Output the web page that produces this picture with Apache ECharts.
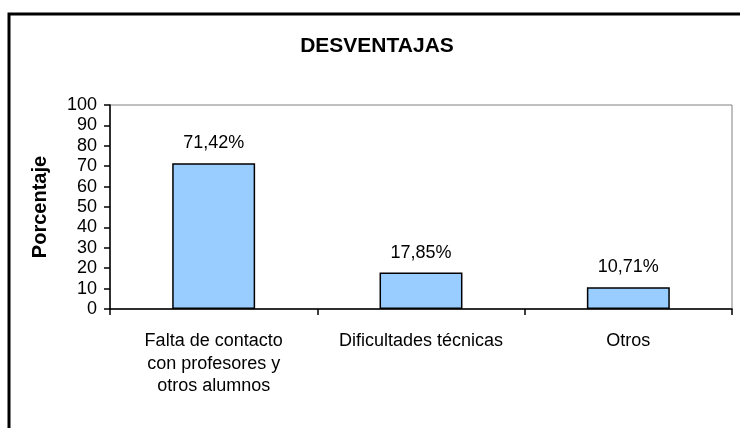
<!DOCTYPE html>
<html>
<head>
<meta charset="utf-8">
<style>
  html, body { margin: 0; padding: 0; background: #fff; }
  #chart { width: 740px; height: 428px; }
</style>
<script src="https://cdn.jsdelivr.net/npm/echarts@6/dist/echarts.min.js"></script>
</head>
<body>
<div id="chart"></div>
<script>
// datos
const categories = [
  "Falta de contacto\ncon profesores y\notros alumnos",
  "Dificultades técnicas",
  "Otros"
];
const values = [71.42, 17.85, 10.71];
const labels = ["71,42%", "17,85%", "10,71%"];

const font = "Liberation Sans, Arial, sans-serif";

const chart = echarts.init(document.getElementById("chart"));
chart.setOption({
  animation: false,
  backgroundColor: "#fff",
  textStyle: { fontFamily: font },
  title: {
    text: "DESVENTAJAS",
    left: 372,
    top: 31,
    textAlign: "center",
    textStyle: { fontSize: 21, fontWeight: "bold", color: "#000", fontFamily: font },
  },
  graphic: [
    {
      // marco exterior (sale del recorte por la derecha y abajo)
      type: "rect",
      shape: { x: 9, y: 14, width: 800, height: 500 },
      style: { fill: "none", stroke: "#000", lineWidth: 3 },
      silent: true,
    },
  ],
  grid: {
    left: 110,
    top: 105,
    right: 8,
    bottom: 119,
    show: true,
    borderColor: "#808080",
    borderWidth: 1,
  },
  xAxis: {
    type: "category",
    data: categories,
    axisLine: { lineStyle: { color: "#000", width: 1.5 } },
    axisTick: { show: true, length: 6, lineStyle: { color: "#000", width: 1.5 } },
    axisLabel: {
      interval: 0,
      color: "#000",
      fontSize: 18,
      lineHeight: 22.5,
      margin: 21,
      fontFamily: font,
    },
  },
  yAxis: {
    type: "value",
    min: 0,
    max: 100,
    interval: 10,
    name: "Porcentaje",
    nameLocation: "middle",
    nameRotate: 90,
    nameGap: 60,
    nameTextStyle: { fontSize: 20, fontWeight: "bold", color: "#000", fontFamily: font },
    splitLine: { show: false },
    axisLine: { show: true, lineStyle: { color: "#000", width: 1.5 } },
    axisTick: { show: true, length: 6, lineStyle: { color: "#000", width: 1.5 } },
    axisLabel: { color: "#000", fontSize: 18, margin: 13, fontFamily: font },
  },
  series: [
    {
      type: "bar",
      data: values,
      barWidth: "40%",
      itemStyle: { color: "#99ccff", borderColor: "#000", borderWidth: 1.5 },
      label: {
        show: true,
        position: "top",
        distance: 11,
        color: "#000",
        fontSize: 18,
        fontFamily: font,
        formatter: (p) => labels[p.dataIndex],
      },
    },
  ],
});
</script>
</body>
</html>
